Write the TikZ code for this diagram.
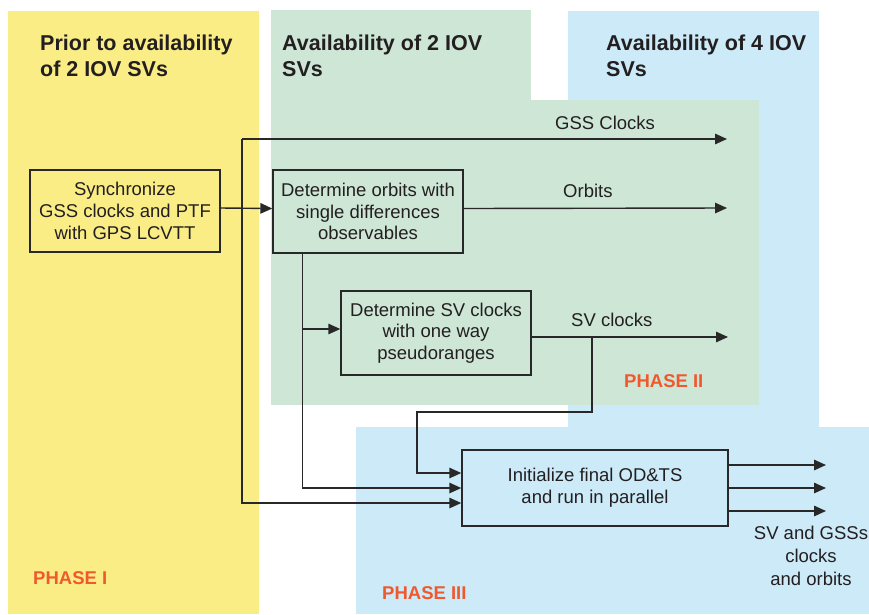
\documentclass[tikz,border=0pt]{standalone}
\usepackage{fontspec}
\setmainfont{Liberation Sans}
\usetikzlibrary{arrows.meta}
\definecolor{ybg}{RGB}{250,237,134}
\definecolor{gbg}{RGB}{205,230,213}
\definecolor{bbg}{RGB}{204,234,247}
\definecolor{linec}{RGB}{40,40,40}
\definecolor{textc}{RGB}{35,31,32}
\definecolor{phasec}{RGB}{238,90,46}
\begin{document}
\begin{tikzpicture}[x=1pt,y=-1pt,
  arr/.style={draw=linec, line width=1.4pt, -{Triangle[length=12pt,width=10.5pt]}},
  procbox/.style={draw=linec, line width=1.4pt, inner sep=0pt, align=center, text=textc, font=\fontsize{18.5}{21.7}\selectfont},
  titletxt/.style={anchor=base west, inner sep=0pt, text=textc, font=\bfseries\fontsize{21.5}{26}\selectfont},
  phasetxt/.style={anchor=base west, inner sep=0pt, text=phasec, font=\bfseries\fontsize{18.5}{22}\selectfont},
  lbl/.style={anchor=base west, inner sep=0pt, text=textc, font=\fontsize{18.5}{21.7}\selectfont}]
\useasboundingbox (0,0) rectangle (869,614);
% panels
\fill[ybg] (8,11) rectangle (259,614);
\fill[bbg] (568,11) rectangle (819,427);
\fill[bbg] (356,427) rectangle (869,614);
\fill[gbg] (271,10) rectangle (531,100);
\fill[gbg] (271,100) rectangle (759,405);
% titles
\node[titletxt] (t1a) at (40,50) {Prior to availability};
\node[titletxt] (t1b) at (40,76) {of 2 IOV SVs};
\node[titletxt] (t2a) at (282,50) {Availability of 2 IOV};
\node[titletxt] (t2b) at (282,76) {SVs};
\node[titletxt] (t3a) at (606,50) {Availability of 4 IOV};
\node[titletxt] (t3b) at (606,76) {SVs};
% phases
\node[phasetxt] (p1) at (33,584) {PHASE I};
\node[phasetxt] (p2) at (624,387) {PHASE II};
\node[phasetxt] (p3) at (382,599) {PHASE III};
% boxes
\node[procbox, minimum width=190pt, minimum height=82pt] (sync) at (125,211) {Synchronize\\GSS clocks and PTF\\with GPS LCVTT};
\node[procbox, minimum width=190pt, minimum height=83pt] (orb) at (368,211.5) {Determine orbits with\\single differences\\observables};
\node[procbox, minimum width=190pt, minimum height=84pt] (sv) at (436,333) {Determine SV clocks\\with one way\\pseudoranges};
\node[procbox, minimum width=266pt, minimum height=76pt] (init) at (595,488) {Initialize final OD\&TS\\and run in parallel};
% coordinates
\coordinate (gTop) at (242,139);
\coordinate (gEnd) at (727,139);
\coordinate (oEnd) at (727,208);
\coordinate (sEnd) at (728,337);
\coordinate (br) at (303,329);
\coordinate (svb) at (592,337);
\coordinate (svd) at (592,412);
\coordinate (svl) at (417,473);
\coordinate (out1) at (826,465);
\coordinate (out2) at (826,488);
\coordinate (out3) at (826,511);
% connectors
\draw[arr] ([yshift=3pt]sync.east) -- ([yshift=3pt]orb.west);
\draw[arr] (gTop) -- (gEnd);
\draw[arr] (gTop) |- ([yshift=-15pt]init.west);
\draw[arr] ([yshift=3pt]orb.east) -- (oEnd);
\draw[arr] ([xshift=30pt]orb.south west) |- (init.west);
\draw[arr] (br) -- ([yshift=4pt]sv.west);
\draw[arr] ([yshift=-4pt]sv.east) -- (sEnd);
\draw[arr] (svb) -- (svd) -| (svl) -- ([yshift=15pt]init.west);
\draw[arr] ([yshift=23pt]init.east) -- (out1);
\draw[arr] (init.east) -- (out2);
\draw[arr] ([yshift=-23pt]init.east) -- (out3);
% labels
\node[lbl] (lg) at (555,129) {GSS Clocks};
\node[lbl] (lo) at (563,197) {Orbits};
\node[lbl] (ls) at (571,326) {SV clocks};
\node[anchor=north, inner sep=0pt, align=center, text=textc, font=\fontsize{18.5}{23}\selectfont] (lout) at (811,525.5) {SV and GSSs\\clocks\\and orbits};
\end{tikzpicture}
\end{document}
